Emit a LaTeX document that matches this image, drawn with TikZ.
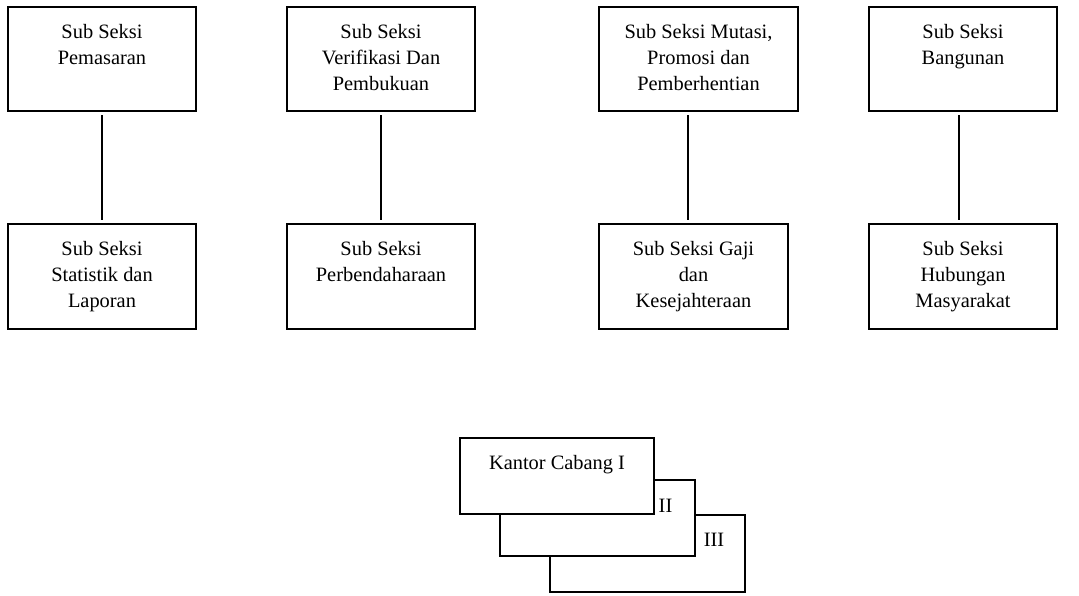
\documentclass[tikz,border=0pt]{standalone}
\usepackage{fontspec}
\setmainfont{Liberation Serif}
\begin{document}
\begin{tikzpicture}[x=1pt,y=-1pt,
  box/.style={draw=black,line width=1.3pt,inner sep=0pt,outer sep=0pt,fill=white},
  txt/.style={align=center,inner sep=0pt,font=\fontsize{20.4}{26}\selectfont},
  link/.style={draw=black,line width=1.3pt}]
\useasboundingbox (0,0) rectangle (1079,595);
% top row
\node[box,minimum width=188pt,minimum height=104pt] (b1) at (102,59) {};
\node[box,minimum width=188pt,minimum height=104pt] (b2) at (381,59) {};
\node[box,minimum width=199pt,minimum height=104pt] (b3) at (698.5,59) {};
\node[box,minimum width=188pt,minimum height=104pt] (b4) at (963,59) {};
% bottom row
\node[box,minimum width=188pt,minimum height=105pt] (c1) at (102,276.5) {};
\node[box,minimum width=188pt,minimum height=105pt] (c2) at (381,276.5) {};
\node[box,minimum width=189pt,minimum height=105pt] (c3) at (693.5,276.5) {};
\node[box,minimum width=188pt,minimum height=105pt] (c4) at (963,276.5) {};
% texts
\node[txt,anchor=north] (tb1) at ([yshift=-17pt]b1.north) {Sub Seksi\\Pemasaran};
\node[txt,anchor=north] (tb2) at ([yshift=-17pt]b2.north) {Sub Seksi\\Verifikasi Dan\\Pembukuan};
\node[txt,anchor=north] (tb3) at ([yshift=-17pt]b3.north) {Sub Seksi Mutasi,\\Promosi dan\\Pemberhentian};
\node[txt,anchor=north] (tb4) at ([yshift=-17pt]b4.north) {Sub Seksi\\Bangunan};
\node[txt,anchor=north] (tc1) at ([yshift=-17pt]c1.north) {Sub Seksi\\Statistik dan\\Laporan};
\node[txt,anchor=north] (tc2) at ([yshift=-17pt]c2.north) {Sub Seksi\\Perbendaharaan};
\node[txt,anchor=north] (tc3) at ([yshift=-17pt]c3.north) {Sub Seksi Gaji\\dan\\Kesejahteraan};
\node[txt,anchor=north] (tc4) at ([yshift=-17pt]c4.north) {Sub Seksi\\Hubungan\\Masyarakat};
% connectors
\coordinate (l1a) at (102,115); \coordinate (l1b) at (102,220);
\coordinate (l2a) at (381,115); \coordinate (l2b) at (381,220);
\coordinate (l3a) at (688,115); \coordinate (l3b) at (688,220);
\coordinate (l4a) at (959,115); \coordinate (l4b) at (959,220);
\draw[link] (l1a) -- (l1b);
\draw[link] (l2a) -- (l2b);
\draw[link] (l3a) -- (l3b);
\draw[link] (l4a) -- (l4b);
% branch offices
\node[box,minimum width=195pt,minimum height=77pt] (k3) at (647.5,553.5) {};
\node[box,minimum width=195pt,minimum height=76pt] (k2) at (597.5,518) {};
\node[box,minimum width=194pt,minimum height=76pt] (k1) at (557,476) {};
\node[txt,anchor=north] (tk1) at ([yshift=-17pt]k1.north) {Kantor Cabang I};
\node[txt,anchor=base] (tk2) at (665.5,512) {II};
\node[txt,anchor=base] (tk3) at (714,546) {III};
\end{tikzpicture}
\end{document}
